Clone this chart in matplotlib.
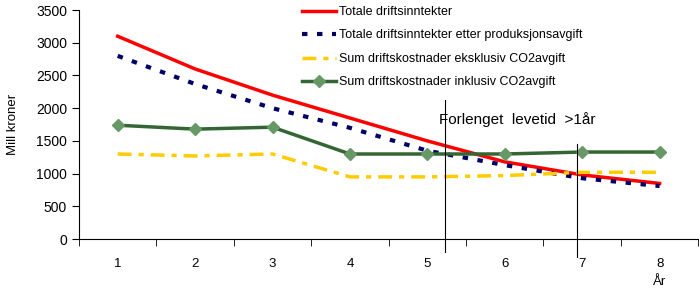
import numpy as np
import matplotlib.pyplot as plt

plt.rcParams['font.family'] = ['Liberation Sans', 'DejaVu Sans']

years = [1, 2, 3, 4, 5, 6, 7, 8]
inntekter = [3100, 2600, 2200, 1850, 1500, 1180, 980, 850]
etter_avgift = [2800, 2370, 2000, 1700, 1350, 1130, 930, 810]
eks_co2 = [1300, 1270, 1300, 950, 950, 970, 1020, 1020]
inkl_co2 = [1740, 1680, 1710, 1300, 1300, 1300, 1330, 1330]

labels = ['Totale driftsinntekter',
          'Totale driftsinntekter etter produksjonsavgift',
          'Sum driftskostnader eksklusiv CO2avgift',
          'Sum driftskostnader inklusiv CO2avgift']

fig = plt.figure(figsize=(6.99, 2.88), dpi=100)
ax = fig.add_axes([0.113, 0.170, 0.886, 0.795])

ax.plot(years, inntekter, color='#ff0000', lw=2.5, label=labels[0])
ax.plot(years, etter_avgift, color='#000066', lw=3, dashes=(1.3, 2.3), label=labels[1])
ax.plot(years, eks_co2, color='#ffcc00', lw=2.5, dashes=(4, 2, 1.5, 2), label=labels[2])
ax.plot(years, inkl_co2, color='#336633', lw=2.5, marker='D', markersize=6,
        markerfacecolor='#669966', markeredgecolor='#669966', label=labels[3])

ax.set_xlim(0.5, 8.5)
ax.set_ylim(0, 3500)
ax.set_yticks(np.arange(0, 3501, 500))
ax.set_xticks(years)
ax.set_xticks(np.arange(0.5, 8.6, 1), minor=True)
ax.tick_params(axis='x', which='major', length=0, pad=14, labelsize=9.5)
ax.tick_params(axis='x', which='minor', length=5, direction='out')
ax.tick_params(axis='y', length=5, direction='out', labelsize=10)
for s in ['top', 'right']:
    ax.spines[s].set_visible(False)

ax.set_ylabel('Mill kroner', fontsize=9.5, labelpad=12)

# markering av forlenget levetid
ax.plot([5.23, 5.23], [-200, 2130], color='black', lw=0.8, clip_on=False)
ax.plot([6.93, 6.93], [-270, 1450], color='black', lw=0.8, clip_on=False)
ax.text(6.16, 1820, 'Forlenget  levetid  >1år', ha='center', va='center', fontsize=11)
ax.text(8.0, -650, 'År', ha='center', va='center', fontsize=9.5)

ax.legend(loc='upper left', bbox_to_anchor=(0.360, 1.018), frameon=False,
          fontsize=9, handlelength=2.7, labelspacing=0.92, handletextpad=0.3,
          borderpad=0, borderaxespad=0)

plt.savefig('out.png', dpi=100)
